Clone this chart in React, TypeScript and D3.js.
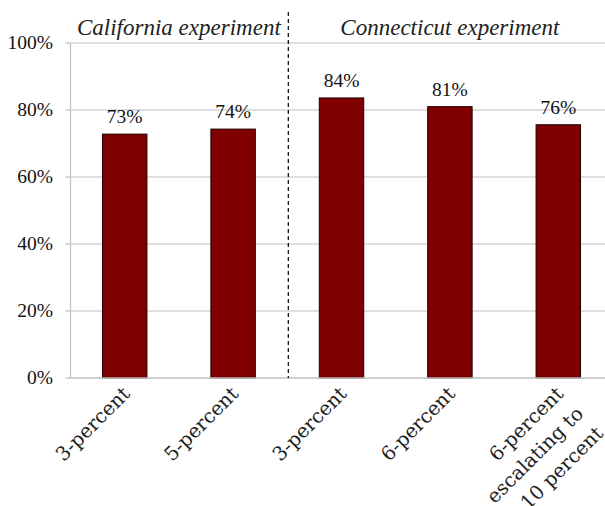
import React from 'react';
import * as d3 from 'd3';

// bar labels (last one wraps over three lines)
const categories = [
  ['3-percent'],
  ['5-percent'],
  ['3-percent'],
  ['6-percent'],
  ['6-percent', 'escalating to', '10 percent'],
];
const values = [0.728, 0.743, 0.836, 0.81, 0.756];
const groupNames = ['California experiment', 'Connecticut experiment'];
const groupStart = [0, 2];
const groupEnd = [1, 4];
const yTicks = [0, 0.2, 0.4, 0.6, 0.8, 1];

const W = 605;
const H = 506;
const margin = { top: 43, left: 70.5, bottom: 128 };
const plotRight = 612.5;

const BAR = '#800000';
const GRID = '#bfbfbf';
const SERIF = '"Liberation Serif", "Times New Roman", Tinos, Times, "DejaVu Serif"';

export default function App() {
  const x = d3
    .scaleBand<number>()
    .domain(categories.map((_, i) => i))
    .range([margin.left, plotRight])
    .paddingInner(0.59)
    .paddingOuter(0.295);
  const y = d3.scaleLinear().domain([0, 1]).range([H - margin.bottom, margin.top]);
  const step = x.step();
  const fmt = d3.format('.0%');
  const y0 = y(0);

  const centre = (i: number) => x(i)! + x.bandwidth() / 2;

  return (
    <svg
      width={W}
      height={H}
      style={{ position: 'absolute', left: 0, top: 0, background: '#fff', fontFamily: SERIF }}
    >
      {/* gridlines */}
      {yTicks.slice(1).map((t) => (
        <line key={t} x1={margin.left} x2={W} y1={y(t)} y2={y(t)} stroke={GRID} strokeWidth={1.2} />
      ))}
      {/* y axis */}
      <line x1={margin.left} x2={margin.left} y1={y(1)} y2={y0} stroke={GRID} strokeWidth={1.2} />
      {yTicks.map((t) => (
        <g key={t}>
          <line x1={margin.left - 5} x2={margin.left} y1={y(t)} y2={y(t)} stroke={GRID} strokeWidth={1.2} />
          <text x={53} y={y(t)} dy="0.33em" textAnchor="end" fontSize={19.5} fill="#111">
            {fmt(t)}
          </text>
        </g>
      ))}

      {/* bars */}
      {values.map((v, i) => (
        <g key={i}>
          <rect
            x={x(i)}
            y={y(v)}
            width={x.bandwidth()}
            height={y0 - y(v)}
            fill={BAR}
            stroke="#1a0000"
            strokeWidth={1}
          />
          <text x={centre(i)} y={y(v) - 11} textAnchor="middle" fontSize={19.5} fill="#111">
            {fmt(v)}
          </text>
        </g>
      ))}

      {/* x axis */}
      <line x1={margin.left} x2={W} y1={y0} y2={y0} stroke={GRID} strokeWidth={1.5} />

      {/* group divider */}
      <line
        x1={margin.left + step * 2 + 1}
        x2={margin.left + step * 2 + 1}
        y1={12}
        y2={y0}
        stroke="#000"
        strokeWidth={1.2}
        strokeDasharray="4,3"
      />

      {/* group titles */}
      {groupNames.map((g, k) => (
        <text
          key={g}
          x={(centre(groupStart[k]) + centre(groupEnd[k])) / 2}
          y={35}
          textAnchor="middle"
          fontSize={23}
          fontStyle="italic"
          fill="#222"
        >
          {g}
        </text>
      ))}

      {/* category labels, rotated */}
      {categories.map((lines, i) => (
        <g key={i} transform={`translate(${centre(i)},${y0 + 5}) rotate(-45)`}>
          {lines.map((l, j) => (
            <text
              key={j}
              x={-4}
              y={13 + j * 28}
              textAnchor="end"
              fontSize={19.5}
              style={{ fontFamily: '"DejaVu Serif", serif' }}
              fill="#222"
            >
              {l}
            </text>
          ))}
        </g>
      ))}
    </svg>
  );
}
